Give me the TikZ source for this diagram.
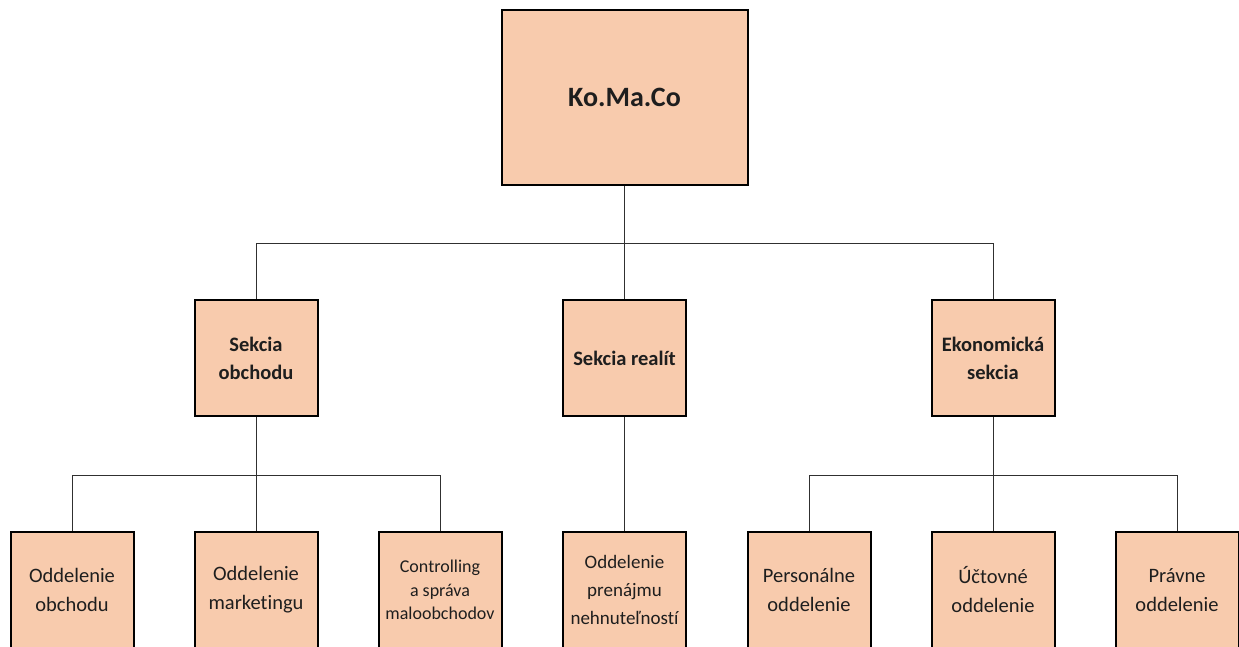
\documentclass[tikz,border=0pt]{standalone}
\usepackage{fontspec}
\setmainfont[Ligatures=NoCommon]{Carlito}
\definecolor{boxfill}{HTML}{F8CBAD}
\definecolor{inktext}{HTML}{1E1E1E}
\definecolor{linkgray}{HTML}{303030}
\tikzset{
  unit/.style={rectangle, draw=black, line width=2pt, fill=boxfill, text=inktext, align=center, inner sep=0pt},
  head/.style={unit, minimum width=246, minimum height=175, font=\bfseries\fontsize{28}{34}\selectfont},
  sekcia/.style={unit, minimum width=123, minimum height=116, font=\bfseries\fontsize{20.5}{28}\selectfont},
  oddel/.style={unit, minimum width=123, minimum height=116, font=\fontsize{20.5}{29}\selectfont},
  link/.style={draw=linkgray, line width=1pt}
}
\begin{document}
\begin{tikzpicture}[x=1pt, y=-1pt]
    \useasboundingbox (0,0) rectangle (1239,646);
    \clip (0,0) rectangle (1239,646);
    \draw[link]
    (624.5, 243) coordinate(bar1)
    (256, 475) coordinate(bar2)
    (993, 475) coordinate(bar3);

    \draw
    (624.5, 97.5) node[head](K){Ko.Ma.Co}
    (256, 358) node[sekcia](S){Sekcia\\obchodu}
    (624.5, 358) node[sekcia](R){Sekcia realít}
    (993, 358) node[sekcia](E){Ekonomická\\sekcia}
    (72, 590) node[oddel](O1){Oddelenie\\obchodu}
    (256, 590) node[oddel](O2){Oddelenie\\marketingu}
    (440, 590) node[oddel, font=\fontsize{18}{23.5}\selectfont](O3){Controlling\\a správa\\maloobchodov}
    (624.5, 590) node[oddel, font=\fontsize{19}{28}\selectfont](O4){Oddelenie\\prenájmu\\nehnuteľností}
    (809, 590) node[oddel](O5){Personálne\\oddelenie}
    (993, 590) node[oddel](O6){Účtovné\\oddelenie}
    (1177, 590) node[oddel](O7){Právne\\oddelenie};

    \draw[link] (K) -- (bar1);
    \draw[link] (bar1) -| (S);
    \draw[link] (bar1) -- (R);
    \draw[link] (bar1) -| (E);
    \draw[link] (S) -- (bar2);
    \draw[link] (bar2) -| (O1);
    \draw[link] (bar2) -- (O2);
    \draw[link] (bar2) -| (O3);
    \draw[link] (R) -- (O4);
    \draw[link] (E) -- (bar3);
    \draw[link] (bar3) -| (O5);
    \draw[link] (bar3) -- (O6);
    \draw[link] (bar3) -| (O7);

  \end{tikzpicture}
\end{document}
